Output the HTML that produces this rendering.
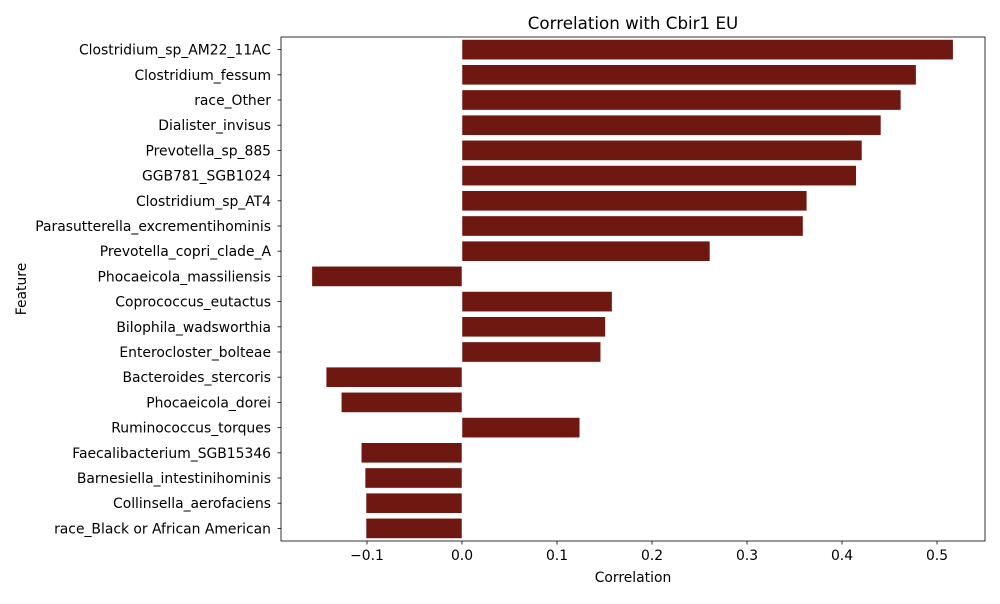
<!DOCTYPE html>
<html><head><meta charset="utf-8"><style>
body{margin:0;background:#fff;font-family:"DejaVu Sans","Liberation Sans",sans-serif;}
svg text{font-family:"DejaVu Sans","Liberation Sans",sans-serif;}
</style></head><body>
<svg id="chart" width="1000" height="600" xmlns="http://www.w3.org/2000/svg"></svg>
<script>
const categories=["Clostridium_sp_AM22_11AC","Clostridium_fessum","race_Other","Dialister_invisus","Prevotella_sp_885","GGB781_SGB1024","Clostridium_sp_AT4","Parasutterella_excrementihominis","Prevotella_copri_clade_A","Phocaeicola_massiliensis","Coprococcus_eutactus","Bilophila_wadsworthia","Enterocloster_bolteae","Bacteroides_stercoris","Phocaeicola_dorei","Ruminococcus_torques","Faecalibacterium_SGB15346","Barnesiella_intestinihominis","Collinsella_aerofaciens","race_Black or African American"];
const values=[0.517,0.478,0.462,0.441,0.421,0.415,0.363,0.359,0.261,-0.158,0.158,0.151,0.146,-0.143,-0.127,0.124,-0.106,-0.102,-0.101,-0.101];
const ticks=[-0.1,0.0,0.1,0.2,0.3,0.4,0.5];
const tickLabels=["−0.1","0.0","0.1","0.2","0.3","0.4","0.5"];
const NS="http://www.w3.org/2000/svg";
const svg=document.getElementById('chart');
const L=281,R=985,T=37,B=541,xmin=-0.1905,xmax=0.5505;
const x=v=>L+(v-xmin)/(xmax-xmin)*(R-L);
const band=(B-T)/categories.length;
const y=i=>T+i*band;
function mk(tag,attrs,txt){const e=document.createElementNS(NS,tag);for(const k in attrs)e.setAttribute(k,attrs[k]);if(txt!==undefined)e.textContent=txt;svg.appendChild(e);return e;}
categories.forEach((c,i)=>{
  const v=values[i];const x0=x(0),x1=x(v);
  const r=mk('rect',{x:Math.min(x0,x1),y:y(i)+band*0.1,width:Math.abs(x1-x0),height:band*0.8,fill:'#6e1811',stroke:'#fff','stroke-width':0.5});
  
  
  const cy=y(i)+band/2;
  mk('line',{x1:L-3.5,x2:L,y1:cy,y2:cy,stroke:'#000','stroke-width':0.8});
  const t=mk('text',{x:L-10,y:cy+5,'text-anchor':'end','font-size':13.9,fill:'#000'},c);
  
  
});
ticks.forEach((v,i)=>{
  const tx=x(v);
  mk('line',{x1:tx,x2:tx,y1:B,y2:B+3.5,stroke:'#000','stroke-width':0.8});
  const t=mk('text',{x:tx,y:B+19,'text-anchor':'middle','font-size':13.9,fill:'#000'},tickLabels[i]);
  
  
});
const f=mk('rect',{x:L,y:T,width:R-L,height:B-T,fill:'none',stroke:'#000','stroke-width':0.8});


const ti=mk('text',{x:(L+R)/2,y:T-8,'text-anchor':'middle','font-size':16.7,fill:'#000'},'Correlation with Cbir1 EU');


const xl=mk('text',{x:(L+R)/2,y:582,'text-anchor':'middle','font-size':13.9,fill:'#000'},'Correlation');


const yl=mk('text',{x:26,y:(T+B)/2,'text-anchor':'middle','font-size':13.9,fill:'#000',transform:'rotate(-90 26 '+((T+B)/2)+')'},'Feature');


</script>
</body></html>
